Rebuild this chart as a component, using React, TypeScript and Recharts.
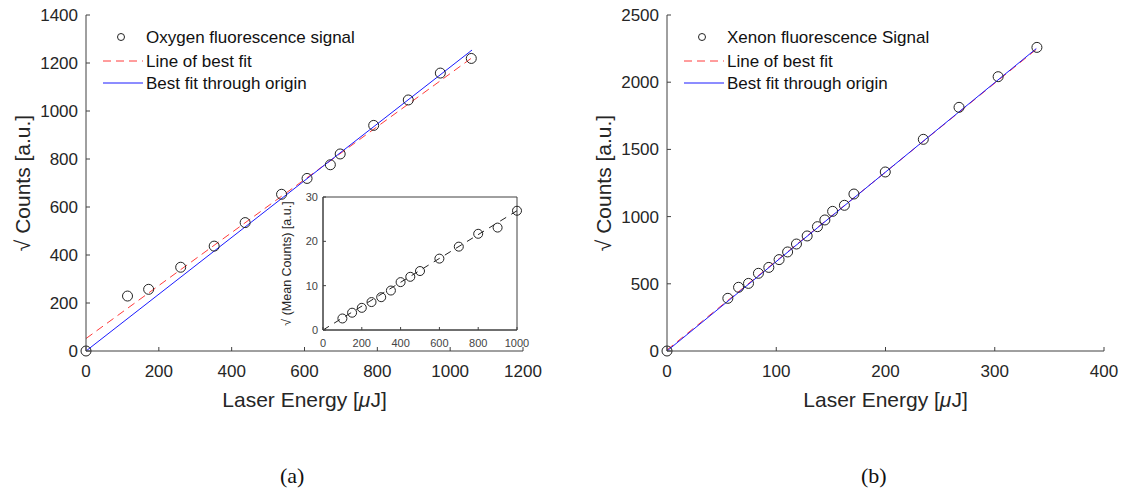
import { ComposedChart, Scatter, Line, XAxis, YAxis, Legend, ReferenceArea } from 'recharts';

// (a) oxygen
const oxygenEnergy = [0, 114, 172, 260, 352, 437, 537, 607, 671, 698, 790, 885, 973, 1058];
const oxygenCounts = [0, 229, 257, 349, 437, 535, 653, 719, 776, 821, 940, 1046, 1158, 1219];
const oxygenFitX = [0, 1060];
const oxygenFitY = [52, 1222];
const oxygenOriginY = [0, 1254];
const oxygenXTicks = [0, 200, 400, 600, 800, 1000, 1200];
const oxygenYTicks = [0, 200, 400, 600, 800, 1000, 1200, 1400];

// inset of (a)
const insetEnergy = [100, 150, 200, 250, 300, 350, 400, 450, 500, 600, 700, 800, 900, 1000];
const insetCounts = [2.6, 3.9, 5.0, 6.3, 7.4, 8.9, 10.8, 12.0, 13.3, 16.1, 18.8, 21.7, 23.1, 26.9];
const insetFitX = [0, 1000];
const insetFitY = [0, 26.9];
const insetXTicks = [0, 200, 400, 600, 800, 1000];
const insetYTicks = [0, 10, 20, 30];

// (b) xenon
const xenonEnergy = [0, 55.7, 65.5, 74.6, 83.7, 93.2, 102.6, 110.4, 118.5, 128.3, 137.7, 144.5, 151.6, 162.4, 171.1, 199.8, 234.6, 267.3, 303.1, 338.6];
const xenonCounts = [0, 392, 474, 503, 578, 622, 680, 737, 796, 856, 925, 975, 1039, 1084, 1168, 1332, 1575, 1813, 2041, 2259];
const xenonFitX = [0, 338];
const xenonFitY = [8, 2244];
const xenonOriginY = [0, 2250];
const xenonXTicks = [0, 100, 200, 300, 400];
const xenonYTicks = [0, 500, 1000, 1500, 2000, 2500];

const toPoints = (xs: number[], ys: number[]) => xs.map((x, i) => ({ x, y: ys[i] }));

const FONT = '"Liberation Sans", Arial, sans-serif';
const AXIS = '#404040';
const TEXT = '#262626';
const RED = '#ff3a3a';
const BLUE = '#1a1aff';

const ring = (r: number) => (p: any) => (
    <circle cx={p.cx} cy={p.cy} r={r} fill="none" stroke="#222" strokeWidth={1} />
);

const yLabel = (text: string, gap: number, size: number) => ({ viewBox }: any) => {
    const x = viewBox.x + viewBox.width - gap;
    const y = viewBox.y + viewBox.height / 2;
    return (
        <text x={x} y={y} transform={`rotate(-90 ${x} ${y})`} textAnchor="middle" dominantBaseline="central"
            fontSize={size} fill={TEXT} fontFamily={FONT}>
            {text}
        </text>
    );
};

const xLabel = ({ viewBox }: any) => (
    <text x={viewBox.x + viewBox.width / 2} y={viewBox.y + 48} textAnchor="middle" dominantBaseline="central"
        fontSize={21} fill={TEXT} fontFamily={FONT}>
        Laser Energy [<tspan fontStyle="italic">μ</tspan>J]
    </text>
);

function LegendBox({ labels }: { labels: string[] }) {
    const t = { fontSize: 17, fill: '#111', fontFamily: FONT, dominantBaseline: 'central' as const };
    return (
        <svg width={300} height={70} style={{ display: 'block' }}>
            <circle cx={21} cy={11} r={3.5} fill="none" stroke="#222" />
            <text x={46} y={11} {...t}>{labels[0]}</text>
            <line x1={3} x2={43} y1={35} y2={35} stroke={RED} strokeDasharray="8 5" />
            <text x={46} y={35} {...t}>{labels[1]}</text>
            <line x1={3} x2={43} y1={57} y2={57} stroke={BLUE} />
            <text x={46} y={57} {...t}>{labels[2]}</text>
        </svg>
    );
}

type PanelProps = {
    left: number;
    width: number;
    yWidth: number;
    right: number;
    xDomain: number[];
    yDomain: number[];
    xTicks: number[];
    yTicks: number[];
    points: { x: number; y: number }[];
    fit: { x: number; y: number }[];
    origin: { x: number; y: number }[];
    labels: string[];
};

function Panel(p: PanelProps) {
    const tick = { fontSize: 17, fill: TEXT, fontFamily: FONT };
    return (
        <div style={{ position: 'absolute', left: p.left, top: 0 }}>
            <ComposedChart width={p.width} height={420} margin={{ top: 15, right: p.right, bottom: 0, left: 0 }}>
                <XAxis type="number" dataKey="x" domain={p.xDomain} ticks={p.xTicks} interval={0} height={69}
                    stroke={AXIS} tick={tick} tickSize={-4} tickMargin={18}
                    label={{ content: xLabel }} />
                <YAxis type="number" dataKey="y" domain={p.yDomain} ticks={p.yTicks} interval={0} width={p.yWidth}
                    stroke={AXIS} tick={tick} tickSize={-4} tickMargin={12}
                    label={{ content: yLabel('√ Counts [a.u.]', 64, 21) }} />
                <Scatter data={p.points} dataKey="y" shape={ring(5)} isAnimationActive={false} />
                <Line data={p.fit} dataKey="y" type="linear" stroke={RED} strokeWidth={1} strokeDasharray="8 5"
                    dot={false} activeDot={false} isAnimationActive={false} />
                <Line data={p.origin} dataKey="y" type="linear" stroke={BLUE} strokeWidth={1}
                    dot={false} activeDot={false} isAnimationActive={false} />
                <Legend layout="vertical" align="center" verticalAlign="middle"
                    wrapperStyle={{ left: p.yWidth + 14, top: 26, width: 300 }}
                    content={() => <LegendBox labels={p.labels} />} />
            </ComposedChart>
        </div>
    );
}

function Inset() {
    const tick = { fontSize: 11, fill: '#444', fontFamily: FONT };
    return (
        <div style={{ position: 'absolute', left: 270, top: 185 }}>
            <ComposedChart width={260} height={175} margin={{ top: 12, right: 13, bottom: 0, left: 0 }}>
                <XAxis type="number" dataKey="x" domain={[0, 1000]} ticks={insetXTicks} interval={0} height={30}
                    stroke={AXIS} tick={tick} tickSize={-3} tickMargin={12} />
                <YAxis type="number" dataKey="y" domain={[0, 30]} ticks={insetYTicks} interval={0} width={53}
                    stroke={AXIS} tick={tick} tickSize={-3} tickMargin={8}
                    label={{ content: yLabel('√ (Mean Counts) [a.u.]', 36, 12.5) }} />
                <ReferenceArea x1={0} x2={1000} y1={0} y2={30} fill="none" stroke={AXIS} strokeWidth={1} />
                <Line data={toPoints(insetFitX, insetFitY)} dataKey="y" type="linear" stroke="#222" strokeWidth={1}
                    strokeDasharray="7 6" dot={false} activeDot={false} isAnimationActive={false} />
                <Scatter data={toPoints(insetEnergy, insetCounts)} dataKey="y" shape={ring(4.5)} isAnimationActive={false} />
            </ComposedChart>
        </div>
    );
}

export default function App() {
    const caption = { position: 'absolute' as const, top: 463, fontFamily: '"Liberation Serif", serif', fontSize: 22, color: '#111' };
    return (
        <div style={{ position: 'absolute', left: 0, top: 0, width: 1138, height: 496, background: '#fff' }}>
            <Panel left={0} width={560} yWidth={86} right={37} xDomain={[0, 1200]} yDomain={[0, 1400]}
                xTicks={oxygenXTicks} yTicks={oxygenYTicks}
                points={toPoints(oxygenEnergy, oxygenCounts)}
                fit={toPoints(oxygenFitX, oxygenFitY)}
                origin={toPoints(oxygenFitX, oxygenOriginY)}
                labels={['Oxygen fluorescence signal', 'Line of best fit', 'Best fit through origin']} />
            <Inset />
            <Panel left={560} width={578} yWidth={107} right={34} xDomain={[0, 400]} yDomain={[0, 2500]}
                xTicks={xenonXTicks} yTicks={xenonYTicks}
                points={toPoints(xenonEnergy, xenonCounts)}
                fit={toPoints(xenonFitX, xenonFitY)}
                origin={toPoints(xenonFitX, xenonOriginY)}
                labels={['Xenon fluorescence Signal', 'Line of best fit', 'Best fit through origin']} />
            <div style={{ ...caption, left: 280 }}>(a)</div>
            <div style={{ ...caption, left: 861 }}>(b)</div>
        </div>
    );
}
